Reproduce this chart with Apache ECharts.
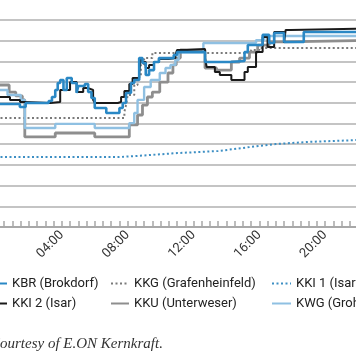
<!DOCTYPE html>
<html><head><meta charset="utf-8">
<script src="https://cdn.jsdelivr.net/npm/echarts@6/dist/echarts.min.js"></script>
<style>html,body{margin:0;padding:0;background:#fff;}#c{width:356px;height:364px;}</style>
</head><body><div id="c"></div>
<script>
// Hours of the day (x) and output values (y, share of the y-axis range)
const hourTicks = [0, 4, 8, 12, 16, 20, 24];
const hourLabels = ['00:00', '04:00', '08:00', '12:00', '16:00', '20:00', '24:00'];
const seriesNames = ['KBR (Brokdorf)', 'KKG (Grafenheinfeld)', 'KKI 1 (Isar)', 'KKI 2 (Isar)', 'KKU (Unterweser)', 'KWG (Grohnde)'];
const caption = 'Courtesy of E.ON Kernkraft.';

const kbr = [[0,59.4],[1.45,58.0],[1.8,59.9],[3.2,60.9],[3.4,62.8],[3.6,66.2],[3.75,69.6],[3.9,71.0],[4.1,66.2],[4.3,72.0],[4.6,69.6],[4.9,64.7],[5.0,68.1],[5.4,69.1],[5.6,65.2],[5.8,62.3],[6.0,57.5],[6.7,55.1],[7.5,57.5],[7.7,59.9],[7.9,64.7],[8.2,69.6],[8.4,71.0],[8.7,81.6],[8.9,79.2],[9.1,73.4],[9.3,75.8],[9.6,79.7],[9.9,81.6],[10.8,83.1],[11.0,84.5],[12.7,79.7],[14.2,80.2],[15.1,84.5],[15.3,87.9],[16.2,92.8],[16.6,88.9],[16.9,93.7],[17.5,89.4],[18.7,94.2],[24,94.2]];
const kkg = [[0,52.7],[7.5,52.7],[7.8,55.6],[7.9,58.9],[8.0,63.8],[8.4,68.6],[8.6,72.5],[8.8,78.3],[9.0,81.6],[9.5,84.1],[11.0,85.5],[12.7,84.1],[15.5,85.5],[16.0,86.5],[24,86.5]];
const kki1 = [[0,33.8],[7.5,33.8],[8.5,34.3],[11,35.7],[13.5,36.7],[15,38.2],[17,40.1],[19,41.1],[21.9,42.0],[24,42.5]];
const kki2 = [[0,62.8],[0.85,61.4],[1.46,60.4],[1.76,59.9],[3.3,60.4],[3.9,66.2],[4.5,70.0],[4.9,65.2],[5.3,67.1],[5.6,66.2],[5.9,61.4],[6.0,59.9],[7.4,60.4],[7.6,62.8],[7.8,65.7],[8.1,69.1],[8.3,72.0],[8.7,74.4],[8.8,81.6],[8.9,79.7],[9.1,76.8],[9.3,78.3],[9.6,79.7],[9.9,81.2],[10.5,81.6],[10.9,83.1],[11.0,85.5],[11.6,86.0],[12.7,81.6],[12.8,77.3],[13.3,74.9],[13.6,73.4],[14.3,71.0],[15.1,74.9],[15.3,77.3],[15.8,84.5],[16.2,91.8],[16.5,87.0],[16.9,94.2],[17.5,88.9],[17.6,95.2],[17.9,96.1],[24,96.1]];
const kku = [[0,68.6],[0.8,65.2],[1.2,63.3],[1.6,61.4],[1.75,43.5],[3.6,45.4],[6.0,43.5],[8.1,49.3],[8.6,54.1],[8.9,58.9],[9.2,62.8],[9.5,65.2],[9.95,70.0],[10.45,74.4],[10.75,78.3],[10.95,81.6],[11.2,85.5],[12.7,76.8],[13.4,75.8],[14.3,79.7],[14.8,81.6],[15.4,84.5],[15.9,87.9],[16.6,89.4],[17.5,90.3],[24,90.3]];
const kwg = [[0,66.2],[0.7,63.8],[1.5,61.4],[1.75,47.8],[3.6,49.8],[6.0,47.8],[8.1,50.2],[8.4,55.1],[8.6,61.4],[9.0,67.6],[9.4,71.0],[9.95,74.4],[10.3,76.8],[10.6,78.3],[10.9,80.7],[11.1,84.5],[12.6,88.9],[15.8,90.3],[16.3,92.3],[24,92.3]];

const chart = echarts.init(document.getElementById('c'), null, {renderer: 'canvas'});
const legendText = {fontFamily: 'Roboto', fontSize: 13, color: '#222'};
function legendCol(left, names, w) {
  return {
    orient: 'vertical', left: left, top: 277, itemWidth: w, itemHeight: 14, itemGap: 7,
    padding: 0, data: names, textStyle: legendText, selectedMode: false,
    itemStyle: {opacity: 0, borderWidth: 0}
  };
}
function mk(name, data, color, width, type, step, z) {
  return {
    name: name, type: 'line', data: data, step: step, symbol: 'none', z: z,
    lineStyle: {color: color, width: width, type: type}, itemStyle: {color: color},
    emphasis: {disabled: true}, animation: false
  };
}
chart.setOption({
  animation: false,
  backgroundColor: '#fff',
  title: {
    text: caption, left: -10, top: 337, padding: 0,
    textStyle: {fontFamily: 'Liberation Serif', fontStyle: 'italic', fontWeight: 'normal', fontSize: 15, color: '#333'}
  },
  legend: [
    legendCol(-12, [seriesNames[0], seriesNames[3]], 18),
    legendCol(110, [seriesNames[1], seriesNames[4]], 18),
    legendCol(271, [seriesNames[2], seriesNames[5]], 19)
  ],
  grid: {left: -4, right: -35, top: 20, bottom: 137, containLabel: false, outerBoundsMode: 'none'},
  xAxis: {
    type: 'value', min: 0, max: 24, interval: 0.5,
    axisLine: {show: true, lineStyle: {color: '#a8a8a8', width: 2}},
    axisTick: {show: true, inside: true, length: 6, lineStyle: {color: '#a8a8a8', width: 1.5}},
    axisLabel: {
      rotate: 45, margin: 6, fontFamily: 'Roboto', fontSize: 13, color: '#333',
      formatter: function (v) { const i = hourTicks.indexOf(v); return i >= 0 ? hourLabels[i] : ''; }
    },
    splitLine: {show: false}
  },
  yAxis: {
    type: 'value', min: 0, max: 100, interval: 10,
    axisLine: {show: false}, axisTick: {show: false}, axisLabel: {show: false},
    splitLine: {show: true, lineStyle: {color: '#c4c4c4', width: 2}}
  },
  series: [
    mk(seriesNames[2], kki1, '#3d8fc4', 2, [2, 2.5], false, 2),
    mk(seriesNames[1], kkg, '#7a7a7a', 2, [2, 2.5], 'end', 3),
    mk(seriesNames[4], kku, '#8e8e8e', 2.8, 'solid', 'end', 4),
    mk(seriesNames[5], kwg, '#8fc0e2', 2.4, 'solid', 'end', 5),
    mk(seriesNames[3], kki2, '#1a1a1a', 2, 'solid', 'end', 6),
    mk(seriesNames[0], kbr, '#2a88c5', 2.6, 'solid', 'end', 7)
  ]
});
</script>
</body></html>
